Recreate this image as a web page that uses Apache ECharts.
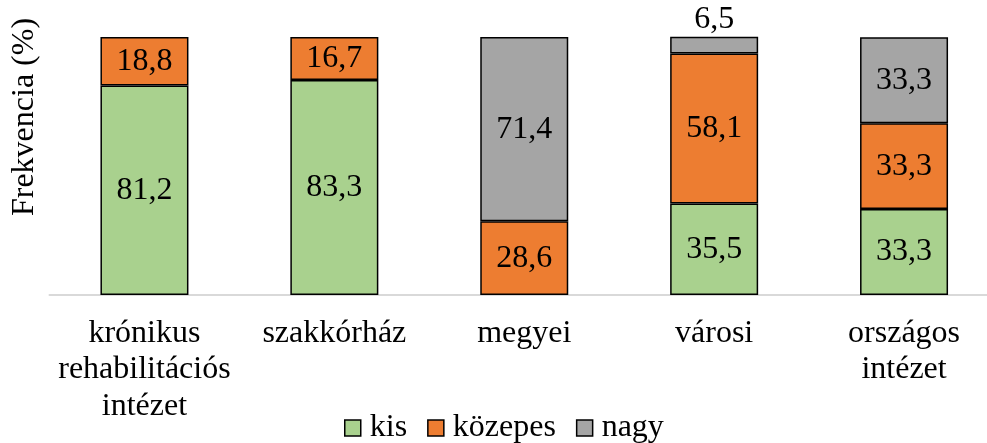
<!DOCTYPE html>
<html><head><meta charset="utf-8">
<script src="https://cdn.jsdelivr.net/npm/echarts@6/dist/echarts.min.js"></script>
<style>html,body{margin:0;padding:0;background:#fff}#c{width:987px;height:443px}</style>
</head><body><div id="c"></div>
<script>
const categories = ['krónikus\nrehabilitációs\nintézet', 'szakkórház', 'megyei', 'városi', 'országos\nintézet'];
const seriesNames = ['kis', 'közepes', 'nagy'];
const kis = [81.2, 83.3, null, 35.5, 33.3];
const kozepes = [18.8, 16.7, 28.6, 58.1, 33.3];
const nagy = [null, null, 71.4, 6.5, 33.3];
const yTitle = 'Frekvencia (%)';

const FONT = 'Liberation Serif';
const FS = 32;
const colors = ['#a9d18e', '#ed7d31', '#a5a5a5'];
const fmt = p => String(p.value).replace('.', ',');

function mk(name, data, color, topIdx) {
  return {
    name, type: 'bar', stack: 'a', barWidth: 88,
    data: data.map((v, i) => (topIdx === i ? { value: v, label: { position: 'top', distance: 1 } } : v)),
    itemStyle: { color, borderColor: '#000', borderWidth: 1.5 },
    label: { show: true, position: 'inside', color: '#000', fontFamily: FONT, fontSize: FS, formatter: fmt },
    emphasis: { disabled: true }
  };
}

const chart = echarts.init(document.getElementById('c'));
chart.setOption({
  animation: false,
  grid: { left: 49.5, width: 949.5, top: 37, bottom: 148, outerBoundsMode: 'none', containLabel: false },
  xAxis: {
    type: 'category', data: categories,
    axisLine: { lineStyle: { color: '#d9d9d9', width: 2 } },
    axisTick: { show: false },
    axisLabel: { color: '#000', fontFamily: FONT, fontSize: FS, lineHeight: 36.5, margin: 20, interval: 0 }
  },
  yAxis: {
    type: 'value', min: 0, max: 100,
    axisLabel: { show: false }, axisLine: { show: false }, axisTick: { show: false }, splitLine: { show: false }
  },
  legend: {
    left: 339, top: 407, icon: 'rect', itemWidth: 16, itemHeight: 16, itemGap: 20,
    textStyle: { color: '#000', fontFamily: FONT, fontSize: FS, padding: [0, 0, 0, 4] },
    itemStyle: { borderColor: '#000', borderWidth: 1.5 },
    data: seriesNames
  },
  graphic: [{
    type: 'text', x: 25, y: 117, rotation: Math.PI / 2,
    style: { text: yTitle, fill: '#000', fontFamily: FONT, fontSize: FS, align: 'center', verticalAlign: 'middle' }
  }],
  series: [
    mk(seriesNames[0], kis, colors[0], -1),
    mk(seriesNames[1], kozepes, colors[1], -1),
    mk(seriesNames[2], nagy, colors[2], 3)
  ]
});
</script></body></html>
